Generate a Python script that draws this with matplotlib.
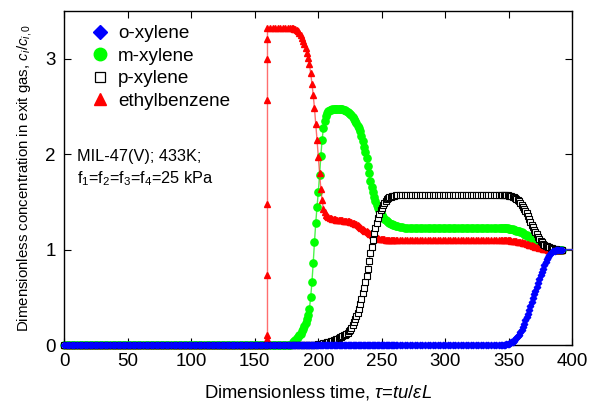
import matplotlib
matplotlib.use("Agg")
import matplotlib.pyplot as plt
from matplotlib.lines import Line2D

plt.rcParams['font.family'] = ['Liberation Sans', 'DejaVu Sans']
plt.rcParams['mathtext.fontset'] = 'custom'
plt.rcParams['mathtext.rm'] = 'Liberation Sans'
plt.rcParams['mathtext.it'] = 'Liberation Sans:italic'

# sample times (dense where the curves are steep)
tau = (list(range(0, 180, 2)) + list(range(179, 263)) + list(range(264, 345, 2))
       + list(range(345, 393)) + list(range(394, 401, 2)))

# o-xylene
ox = ([0, 0, 0, 0, 0, 0, 0, 0, 0, 0, 0, 0, 0, 0, 0, 0, 0, 0, 0, 0, 0, 0, 0, 0, 0, 0, 0, 0, 0, 0,
       0, 0, 0, 0, 0, 0, 0, 0, 0, 0, 0, 0, 0, 0, 0, 0, 0, 0, 0, 0, 0, 0, 0, 0, 0, 0, 0, 0, 0, 0,
       0, 0, 0, 0, 0, 0, 0, 0, 0, 0, 0, 0, 0, 0, 0, 0, 0, 0, 0, 0, 0, 0, 0, 0, 0, 0, 0, 0, 0, 0]
      + [0, 0, 0, 0, 0, 0, 0, 0, 0, 0, 0, 0, 0, 0, 0, 0, 0, 0, 0, 0, 0, 0, 0, 0, 0, 0, 0, 0,
         0, 0, 0, 0, 0, 0, 0, 0, 0, 0, 0, 0, 0, 0, 0, 0, 0, 0, 0, 0, 0, 0, 0, 0, 0, 0, 0, 0,
         0, 0, 0, 0, 0, 0, 0, 0, 0, 0, 0, 0, 0, 0, 0, 0, 0, 0, 0, 0, 0, 0, 0, 0, 0, 0, 0, 0]
      + [0, 0, 0, 0, 0, 0, 0, 0, 0, 0, 0, 0, 0, 0, 0, 0, 0, 0, 0, 0,
         0, 0, 0, 0, 0, 0, 0, 0, 0, 0, 0, 0, 0, 0, 0, 0, 0, 0, 0, 0, 0]
      + [0.00, 0.00, 0.00, 0.01, 0.01, 0.01, 0.02, 0.03, 0.03, 0.04,
         0.06, 0.07, 0.09, 0.11, 0.14, 0.16, 0.19, 0.22, 0.26, 0.29,
         0.33, 0.37, 0.41, 0.45, 0.49, 0.53, 0.57, 0.61, 0.65, 0.69,
         0.73, 0.77, 0.80, 0.84, 0.87, 0.90, 0.92, 0.94, 0.96, 0.97,
         0.98, 0.99, 1.00, 1.00, 1.00, 1.00, 1.00, 1.00]
      + [1.00, 1.00, 1.00, 1.00])

# m-xylene
mx = ([0, 0, 0, 0, 0, 0, 0, 0, 0, 0, 0, 0, 0, 0, 0, 0, 0, 0, 0, 0, 0, 0, 0, 0, 0, 0, 0, 0, 0, 0,
       0, 0, 0, 0, 0, 0, 0, 0, 0, 0, 0, 0, 0, 0, 0, 0, 0, 0, 0, 0, 0, 0, 0, 0, 0, 0, 0, 0, 0, 0,
       0, 0, 0, 0, 0, 0, 0, 0, 0, 0, 0, 0, 0, 0, 0, 0, 0, 0, 0, 0, 0, 0, 0, 0, 0, 0, 0, 0, 0, 0]
      + [0.01, 0.03, 0.04, 0.05, 0.07, 0.08, 0.10, 0.12, 0.15, 0.17,
         0.20, 0.23, 0.27, 0.31, 0.38, 0.50, 0.66, 0.86, 1.08, 1.28,
         1.45, 1.60, 1.78, 1.98, 2.15, 2.27, 2.35, 2.40, 2.43, 2.45,
         2.46, 2.46, 2.47, 2.47, 2.47, 2.47, 2.47, 2.47, 2.47, 2.47,
         2.47, 2.46, 2.46, 2.45, 2.44, 2.43, 2.42, 2.41, 2.39, 2.37,
         2.35, 2.33, 2.30, 2.27, 2.24, 2.19, 2.14, 2.08, 2.02, 1.96,
         1.88, 1.80, 1.72, 1.66, 1.60, 1.55, 1.51, 1.47, 1.44, 1.41,
         1.38, 1.36, 1.34, 1.32, 1.31, 1.30, 1.29, 1.28, 1.27, 1.27,
         1.26, 1.26, 1.25, 1.25]
      + [1.24, 1.24, 1.23, 1.23, 1.23, 1.23, 1.23, 1.23, 1.23, 1.23, 1.23, 1.23, 1.23, 1.23,
         1.23, 1.23, 1.23, 1.23, 1.23, 1.23, 1.23, 1.23, 1.23, 1.23, 1.23, 1.23, 1.23, 1.23,
         1.23, 1.23, 1.23, 1.23, 1.23, 1.23, 1.23, 1.23, 1.23, 1.23, 1.23, 1.23, 1.23]
      + [1.23, 1.23, 1.23, 1.23, 1.23, 1.22, 1.22, 1.22, 1.22, 1.21,
         1.21, 1.20, 1.20, 1.19, 1.18, 1.18, 1.17, 1.16, 1.15, 1.15,
         1.14, 1.13, 1.12, 1.12, 1.11, 1.10, 1.09, 1.09, 1.08, 1.07,
         1.06, 1.05, 1.05, 1.04, 1.03, 1.03, 1.02, 1.02, 1.01, 1.01,
         1.00, 1.00, 1.00, 1.00, 1.00, 1.00, 1.00, 1.00]
      + [1.00, 1.00, 1.00, 1.00])

# p-xylene
px = ([0, 0, 0, 0, 0, 0, 0, 0, 0, 0, 0, 0, 0, 0, 0, 0, 0, 0, 0, 0, 0, 0, 0, 0, 0, 0, 0, 0, 0, 0,
       0, 0, 0, 0, 0, 0, 0, 0, 0, 0, 0, 0, 0, 0, 0, 0, 0, 0, 0, 0, 0, 0, 0, 0, 0, 0, 0, 0, 0, 0,
       0, 0, 0, 0, 0, 0, 0, 0, 0, 0, 0, 0, 0, 0, 0, 0, 0, 0, 0, 0, 0, 0, 0, 0, 0, 0, 0, 0, 0, 0]
      + [0, 0, 0, 0, 0, 0, 0, 0, 0, 0,
         0, 0, 0, 0, 0, 0, 0, 0, 0, 0,
         0.00, 0.01, 0.01, 0.01, 0.01, 0.02, 0.02, 0.02, 0.03, 0.03,
         0.03, 0.04, 0.04, 0.05, 0.05, 0.06, 0.06, 0.07, 0.08, 0.08,
         0.09, 0.10, 0.11, 0.12, 0.13, 0.15, 0.16, 0.18, 0.21, 0.24,
         0.27, 0.30, 0.34, 0.38, 0.43, 0.48, 0.54, 0.60, 0.66, 0.72,
         0.80, 0.88, 0.96, 1.03, 1.10, 1.17, 1.23, 1.28, 1.33, 1.37,
         1.41, 1.44, 1.47, 1.49, 1.51, 1.53, 1.54, 1.55, 1.55, 1.56,
         1.56, 1.56, 1.57, 1.57]
      + [1.57, 1.57, 1.57, 1.57, 1.57, 1.57, 1.57, 1.57, 1.57, 1.57, 1.57, 1.57, 1.57, 1.57,
         1.57, 1.57, 1.57, 1.57, 1.57, 1.57, 1.57, 1.57, 1.57, 1.57, 1.57, 1.57, 1.57, 1.57,
         1.57, 1.57, 1.57, 1.57, 1.57, 1.57, 1.57, 1.57, 1.57, 1.57, 1.57, 1.57, 1.57]
      + [1.57, 1.57, 1.57, 1.57, 1.57, 1.56, 1.56, 1.56, 1.55, 1.55,
         1.54, 1.53, 1.52, 1.51, 1.49, 1.47, 1.45, 1.43, 1.40, 1.38,
         1.35, 1.32, 1.29, 1.26, 1.24, 1.21, 1.18, 1.16, 1.13, 1.11,
         1.09, 1.08, 1.06, 1.05, 1.04, 1.04, 1.03, 1.03, 1.02, 1.02,
         1.01, 1.01, 1.01, 1.00, 1.00, 1.00, 1.00, 1.00]
      + [1.00, 1.00, 1.00, 1.00])

# ethylbenzene (plus the breakthrough front, all read at tau = 160)
eb_front_tau = 160
eb_front = [0.00, 0.03, 0.06, 0.11, 0.73, 1.48, 2.57, 3.00, 3.21]
eb = ([0, 0, 0, 0, 0, 0, 0, 0, 0, 0, 0, 0, 0, 0, 0, 0, 0, 0, 0, 0, 0, 0, 0, 0, 0, 0, 0, 0, 0, 0,
       0, 0, 0, 0, 0, 0, 0, 0, 0, 0, 0, 0, 0, 0, 0, 0, 0, 0, 0, 0, 0, 0, 0, 0, 0, 0, 0, 0, 0, 0,
       0, 0, 0, 0, 0, 0, 0, 0, 0, 0, 0, 0, 0, 0, 0, 0, 0, 0, 0, 0,
       3.32, 3.32, 3.32, 3.32, 3.32, 3.32, 3.32, 3.32, 3.32, 3.32]
      + [3.32, 3.32, 3.31, 3.31, 3.30, 3.29, 3.27, 3.25, 3.22, 3.19,
         3.15, 3.11, 3.06, 3.01, 2.94, 2.85, 2.74, 2.62, 2.48, 2.32,
         2.15, 1.97, 1.80, 1.64, 1.52, 1.43, 1.39, 1.36, 1.35, 1.34,
         1.33, 1.33, 1.32, 1.32, 1.32, 1.31, 1.31, 1.31, 1.31, 1.31,
         1.31, 1.30, 1.30, 1.30, 1.30, 1.30, 1.29, 1.29, 1.28, 1.28,
         1.27, 1.27, 1.26, 1.25, 1.24, 1.23, 1.22, 1.21, 1.20, 1.19,
         1.18, 1.17, 1.16, 1.15, 1.14, 1.13, 1.13, 1.12, 1.12, 1.11,
         1.11, 1.11, 1.11, 1.11, 1.10, 1.10, 1.10, 1.10, 1.10, 1.10,
         1.10, 1.10, 1.10, 1.10]
      + [1.10, 1.10, 1.10, 1.10, 1.10, 1.10, 1.10, 1.10, 1.10, 1.10, 1.10, 1.10, 1.10, 1.10,
         1.10, 1.10, 1.10, 1.10, 1.10, 1.10, 1.10, 1.10, 1.10, 1.10, 1.10, 1.10, 1.10, 1.10,
         1.10, 1.10, 1.10, 1.10, 1.10, 1.10, 1.10, 1.10, 1.10, 1.10, 1.10, 1.10, 1.10]
      + [1.10, 1.10, 1.10, 1.10, 1.10, 1.10, 1.10, 1.09, 1.09, 1.09,
         1.09, 1.09, 1.08, 1.08, 1.08, 1.08, 1.07, 1.07, 1.07, 1.06,
         1.06, 1.05, 1.05, 1.05, 1.04, 1.04, 1.03, 1.03, 1.03, 1.02,
         1.02, 1.02, 1.01, 1.01, 1.01, 1.01, 1.00, 1.00, 1.00, 1.00,
         1.00, 1.00, 1.00, 1.00, 1.00, 1.00, 1.00, 1.00]
      + [1.00, 1.00, 1.00, 1.00])

i = tau.index(eb_front_tau)
eb_tau = tau[:i] + [eb_front_tau] * len(eb_front) + tau[i:]
eb_val = eb[:i] + eb_front + eb[i:]

labels = ['o-xylene', 'm-xylene', 'p-xylene', 'ethylbenzene']

fig = plt.figure(figsize=(5.93, 4.05), dpi=100)
ax = fig.add_axes([0.1084, 0.1481, 0.8567, 0.8247])

ax.plot(tau, mx, color='#00ee00', lw=1, alpha=0.7, zorder=2, clip_on=False)
ax.plot(tau, mx, ls='none', marker='o', ms=5.2, color='#00ff00', mec='#00ff00',
        markevery=slice(0, -4), zorder=2, clip_on=False)
ax.plot(eb_tau, eb_val, color='#ff3030', lw=1, alpha=0.7, zorder=3, clip_on=False)
ax.plot(eb_tau, eb_val, ls='none', marker='^', ms=4.2, color='#ff0000', mec='#ff0000',
        markevery=slice(0, -4), zorder=3, clip_on=False)
ax.plot(tau, px, color='#555555', lw=0.8, alpha=0.8, zorder=4, clip_on=False)
ax.plot(tau, px, ls='none', marker='s', ms=4.3, mfc='white', mec='black', mew=0.8,
        markevery=slice(0, -4), zorder=4, clip_on=False)
ax.plot(tau, ox, color='#2020ff', lw=1, alpha=0.8, zorder=5, clip_on=False)
ax.plot(tau, ox, ls='none', marker='D', ms=3.3, color='#0000ff', mec='#0000ff',
        markevery=slice(0, -4), zorder=5, clip_on=False)

ax.set_xlim(0, 400)
ax.set_ylim(0, 3.5)
ax.set_xticks(range(0, 401, 50))
ax.set_yticks([0, 1, 2, 3])
ax.tick_params(direction='in', top=True, right=True, length=5, width=0.8,
               labelsize=13.5, pad=6)
for s in ax.spines.values():
    s.set_linewidth(1)

ax.set_xlabel(r'Dimensionless time, $\tau$=$tu/\varepsilon L$', fontsize=13.3, labelpad=9)
ax.set_ylabel(r'Dimensionless concentration in exit gas, $c_i/c_{i,0}$', fontsize=10.8, labelpad=8)

handles = [
    Line2D([], [], ls='none', marker='D', ms=7.5, color='#0000ff'),
    Line2D([], [], ls='none', marker='o', ms=9, color='#00ff00'),
    Line2D([], [], ls='none', marker='s', ms=7, mfc='white', mec='black', mew=0.9),
    Line2D([], [], ls='none', marker='^', ms=8.5, color='#ff0000'),
]
ax.legend(handles, labels, loc='upper left', bbox_to_anchor=(0.035, 0.98), frameon=False,
          fontsize=13.6, handlelength=1.1, handletextpad=0.4, labelspacing=0.28, borderaxespad=0)

ax.text(0.025, 0.565, 'MIL-47(V); 433K;', transform=ax.transAxes, fontsize=11.7, va='center')
ax.text(0.025, 0.497, r'f$_1$=f$_2$=f$_3$=f$_4$=25 kPa', transform=ax.transAxes,
        fontsize=11.7, va='center')

fig.savefig('out.png', dpi=100)
